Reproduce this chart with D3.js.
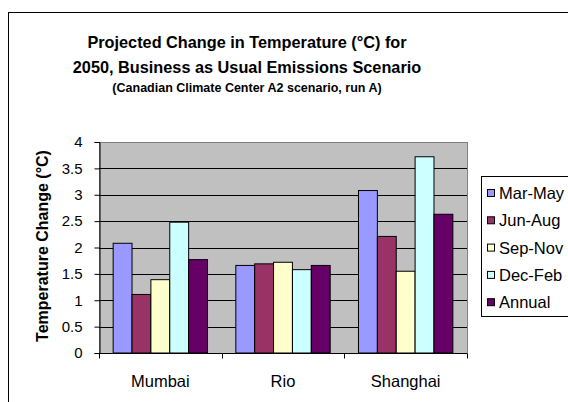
<!DOCTYPE html>
<html>
<head>
<meta charset="utf-8">
<script src="https://cdn.jsdelivr.net/npm/d3@7"></script>
<style>
  html, body { margin: 0; padding: 0; background: #fff; }
  svg { display: block; font-family: "Liberation Sans", Arial, sans-serif; }
</style>
</head>
<body>
<svg id="chart" width="568" height="402"></svg>
<script>
// Cities on the x axis
const cities = ["Mumbai", "Rio", "Shanghai"];
// Seasons / series
const seasons = ["Mar-May", "Jun-Aug", "Sep-Nov", "Dec-Feb", "Annual"];
const seasonColors = ["#9999FF", "#993366", "#FFFFCC", "#CCFFFF", "#660066"];
// Projected temperature change (°C) per city, in season order
const marMay = [2.08, 1.66, 3.08];
const junAug = [1.11, 1.69, 2.21];
const sepNov = [1.39, 1.72, 1.55];
const decFeb = [2.48, 1.58, 3.72];
const annual = [1.77, 1.66, 2.63];
const yTicks = [0, 0.5, 1, 1.5, 2, 2.5, 3, 3.5, 4];

const seriesValues = [marMay, junAug, sepNov, decFeb, annual];

const svg = d3.select("#chart");

// outer chart border
svg.append("rect")
  .attr("x", 8.5).attr("y", 12.5)
  .attr("width", 600).attr("height", 420)
  .attr("fill", "#fff").attr("stroke", "#000").attr("stroke-width", 1);

// titles
const title = svg.append("g").attr("text-anchor", "middle").attr("font-weight", "bold").attr("fill", "#000");
title.append("text").attr("x", 247).attr("y", 47.5).attr("font-size", 16.3)
  .text("Projected Change in Temperature (°C) for");
title.append("text").attr("x", 247).attr("y", 73).attr("font-size", 16.3)
  .text("2050, Business as Usual Emissions Scenario");
title.append("text").attr("x", 247).attr("y", 92).attr("font-size", 12.5)
  .text("(Canadian Climate Center A2 scenario, run A)");

// plot area
const plotLeft = 99, plotRight = 467, plotTop = 142, plotBottom = 353;

const x0 = d3.scaleBand().domain(cities).range([plotLeft, plotRight]).padding(0);
const x1 = d3.scaleBand().domain(seasons).range([0, x0.bandwidth()])
  .paddingInner(0).paddingOuter(0.75);
const y = d3.scaleLinear().domain([0, 4]).range([plotBottom, plotTop]);
const color = d3.scaleOrdinal().domain(seasons).range(seasonColors);

svg.append("rect")
  .attr("x", plotLeft).attr("y", plotTop)
  .attr("width", plotRight - plotLeft).attr("height", plotBottom - plotTop)
  .attr("fill", "#C0C0C0").attr("stroke", "#808080").attr("stroke-width", 1)
  .attr("shape-rendering", "crispEdges");

// horizontal gridlines
svg.append("g").selectAll("line")
  .data(yTicks.filter(t => t > 0 && t < 4))
  .join("line")
  .attr("x1", plotLeft).attr("x2", plotRight)
  .attr("y1", d => Math.round(y(d)) + 0.5).attr("y2", d => Math.round(y(d)) + 0.5)
  .attr("stroke", "#000").attr("stroke-width", 1);

// bars
const groups = svg.append("g").selectAll("g")
  .data(cities)
  .join("g")
  .attr("transform", d => `translate(${x0(d)},0)`);

groups.selectAll("rect")
  .data((c, ci) => seasons.map((s, si) => ({ season: s, value: seriesValues[si][ci] })))
  .join("rect")
  .attr("x", d => x1(d.season))
  .attr("y", d => y(d.value))
  .attr("width", x1.bandwidth())
  .attr("height", d => plotBottom - y(d.value))
  .attr("fill", d => color(d.season))
  .attr("stroke", "#000").attr("stroke-width", 1);

// y axis
const yAxis = svg.append("g")
  .attr("transform", `translate(${plotLeft + 0.5},0)`)
  .call(d3.axisLeft(y).tickValues(yTicks).tickFormat(d3.format("")).tickSize(5).tickPadding(12));
yAxis.selectAll("text").attr("font-size", 15).attr("font-family", "Liberation Sans, Arial, sans-serif").attr("fill", "#000");
yAxis.selectAll("line").attr("stroke", "#000");
yAxis.select(".domain").attr("stroke", "#000");

// x axis
const xAxis = svg.append("g")
  .attr("transform", `translate(0,${plotBottom + 0.5})`);
xAxis.append("line").attr("x1", plotLeft).attr("x2", plotRight).attr("stroke", "#000");
xAxis.selectAll("line.tick")
  .data(d3.range(cities.length + 1))
  .join("line")
  .attr("class", "tick")
  .attr("x1", i => Math.round(plotLeft + i * x0.step()) + 0.5)
  .attr("x2", i => Math.round(plotLeft + i * x0.step()) + 0.5)
  .attr("y1", 0).attr("y2", 5)
  .attr("stroke", "#000");
xAxis.selectAll("text")
  .data(cities)
  .join("text")
  .attr("x", d => x0(d) + x0.bandwidth() / 2)
  .attr("y", 33)
  .attr("text-anchor", "middle")
  .attr("font-size", 16.5)
  .attr("fill", "#000")
  .text(d => d);

// y axis title
svg.append("text")
  .attr("transform", `translate(48,246) rotate(-90)`)
  .attr("text-anchor", "middle")
  .attr("font-size", 16)
  .attr("font-weight", "bold")
  .attr("fill", "#000")
  .text("Temperature Change (°C)");

// legend
const legend = svg.append("g");
legend.append("rect")
  .attr("x", 481.5).attr("y", 176.5)
  .attr("width", 120).attr("height", 140)
  .attr("fill", "#fff").attr("stroke", "#000");
const items = legend.selectAll("g.item")
  .data(seasons)
  .join("g")
  .attr("class", "item")
  .attr("transform", (d, i) => `translate(487,${193 + i * 27.3})`);
items.append("rect")
  .attr("x", 0.5).attr("y", -3.5)
  .attr("width", 7).attr("height", 7)
  .attr("fill", d => color(d)).attr("stroke", "#000");
items.append("text")
  .attr("x", 12).attr("y", 6)
  .attr("font-size", 16.5)
  .attr("fill", "#000")
  .text(d => d);
</script>
</body>
</html>
